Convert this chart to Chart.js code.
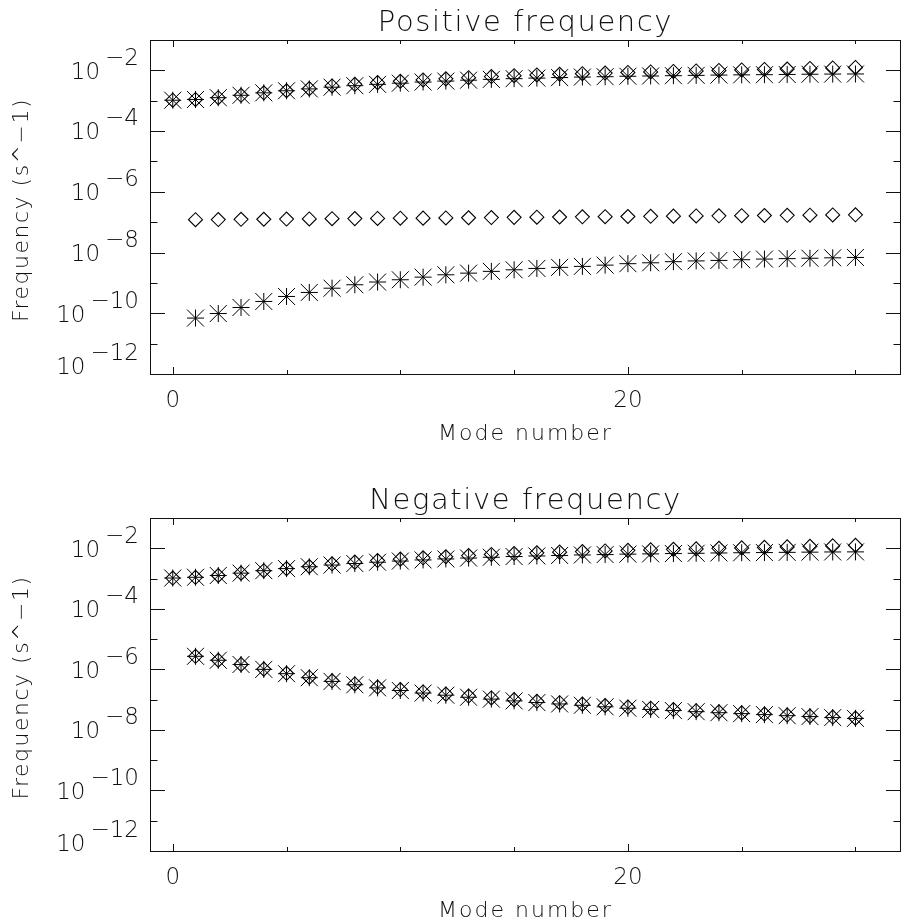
<!DOCTYPE html>
<html>
<head>
<meta charset="utf-8">
<script src="https://cdn.jsdelivr.net/npm/chart.js@4.4.1/dist/chart.umd.min.js"></script>
<style>
  body { margin: 0; background: #fff; }
  canvas { display: block; }
</style>
</head>
<body>
<canvas id="posChart" width="914" height="477"></canvas>
<canvas id="negChart" width="914" height="446"></canvas>
<script>
// mode numbers
const modeNumbers = [0,1,2,3,4,5,6,7,8,9,10,11,12,13,14,15,16,17,18,19,20,21,22,23,24,25,26,27,28,29,30];
const lowerModes = [1,2,3,4,5,6,7,8,9,10,11,12,13,14,15,16,17,18,19,20,21,22,23,24,25,26,27,28,29,30];

// upper branch (same in both panels)
const upperStar = [1.04e-3,1.10e-3,1.26e-3,1.51e-3,1.82e-3,2.13e-3,2.45e-3,2.79e-3,3.13e-3,3.46e-3,
  3.78e-3,4.12e-3,4.44e-3,4.75e-3,5.05e-3,5.33e-3,5.57e-3,5.79e-3,6.01e-3,6.19e-3,
  6.40e-3,6.53e-3,6.68e-3,6.84e-3,7.00e-3,7.11e-3,7.21e-3,7.33e-3,7.45e-3,7.55e-3,7.60e-3];
const upperDiamond = [1.04e-3,1.10e-3,1.26e-3,1.51e-3,1.82e-3,2.13e-3,2.50e-3,3.06e-3,3.48e-3,3.94e-3,
  4.38e-3,4.83e-3,5.25e-3,5.74e-3,6.25e-3,6.68e-3,7.05e-3,7.45e-3,7.78e-3,8.15e-3,
  8.53e-3,8.85e-3,9.20e-3,9.55e-3,9.93e-3,1.03e-2,1.07e-2,1.11e-2,1.16e-2,1.20e-2,1.25e-2];

// positive frequency, lower branches
const posMiddleDiamond = [1.21e-7,1.22e-7,1.24e-7,1.25e-7,1.27e-7,1.28e-7,1.30e-7,1.31e-7,1.33e-7,1.35e-7,
  1.36e-7,1.38e-7,1.40e-7,1.42e-7,1.44e-7,1.46e-7,1.48e-7,1.50e-7,1.52e-7,1.54e-7,
  1.56e-7,1.58e-7,1.60e-7,1.62e-7,1.64e-7,1.66e-7,1.68e-7,1.70e-7,1.73e-7,1.75e-7];
const posLowerStar = [6.95e-11,9.8e-11,1.55e-10,2.45e-10,3.58e-10,4.85e-10,6.7e-10,8.7e-10,1.07e-9,1.27e-9,
  1.55e-9,1.85e-9,2.1e-9,2.4e-9,2.7e-9,3.0e-9,3.25e-9,3.5e-9,3.85e-9,4.3e-9,
  4.6e-9,5.0e-9,5.3e-9,5.5e-9,5.8e-9,6.1e-9,6.3e-9,6.5e-9,6.7e-9,6.9e-9];

// negative frequency, lower branch
const negLowerStar = [2.7e-6,2.0e-6,1.45e-6,1.0e-6,7.2e-7,5.3e-7,4.0e-7,3.1e-7,2.45e-7,2.0e-7,
  1.65e-7,1.4e-7,1.2e-7,1.04e-7,9.1e-8,8.0e-8,7.2e-8,6.5e-8,5.8e-8,5.2e-8,
  4.75e-8,4.35e-8,4.0e-8,3.7e-8,3.45e-8,3.2e-8,2.95e-8,2.75e-8,2.55e-8,2.4e-8];
const negLowerDiamond = [2.7e-6,2.0e-6,1.46e-6,1.02e-6,7.4e-7,5.5e-7,4.2e-7,3.3e-7,2.6e-7,2.15e-7,
  1.8e-7,1.52e-7,1.31e-7,1.14e-7,1.0e-7,8.8e-8,7.9e-8,7.1e-8,6.4e-8,5.7e-8,
  5.2e-8,4.7e-8,4.3e-8,3.95e-8,3.65e-8,3.35e-8,3.1e-8,2.85e-8,2.65e-8,2.45e-8];

// axis ticks
const yExponents = [-12,-11,-10,-9,-8,-7,-6,-5,-4,-3,-2,-1];
const xTickValues = [0,5,10,15,20,25,30];
const xLabelValues = [0,20];

const FONT = "'DejaVu Sans', sans-serif";
const INK = '#111';
const STAR_R = 8.5;

function toPoints(xs, ys) {
  return xs.map((x, i) => ({x: x, y: ys[i]}));
}
// IDL asterisk = plus + an x whose arms reach the corners
function starSets(xs, ys) {
  const pts = toPoints(xs, ys);
  const base = {data: pts, borderColor: '#000', borderWidth: 1, showLine: false};
  return [
    Object.assign({}, base, {pointStyle: 'cross', pointRadius: STAR_R}),
    Object.assign({}, base, {pointStyle: 'crossRot', pointRadius: STAR_R * Math.SQRT2})
  ];
}
function diamondSet(xs, ys) {
  return {data: toPoints(xs, ys), pointStyle: 'rectRot', pointRadius: 7, borderColor: '#000',
    borderWidth: 1.1, backgroundColor: 'rgba(0,0,0,0)', showLine: false};
}

function drawText(ctx, text, x, y, align, spacing) {
  ctx.letterSpacing = (spacing || 0) + 'px';
  ctx.textAlign = align;
  ctx.fillText(text, x, y);
  ctx.letterSpacing = '0px';
}

function idlAxes(title) {
  return {
    id: 'idlAxes',
    afterDraw(chart) {
      const ctx = chart.ctx;
      const a = chart.chartArea;
      const xs = chart.scales.x, ys = chart.scales.y;
      ctx.save();
      ctx.strokeStyle = INK;
      ctx.lineWidth = 1;
      ctx.strokeRect(a.left + 0.5, a.top + 0.5, a.right - a.left - 1, a.bottom - a.top);

      ctx.beginPath();
      yExponents.forEach(e => {
        const y = Math.round(ys.getPixelForValue(Math.pow(10, e))) + 0.5;
        const len = e % 2 === 0 ? 15 : 7.5;
        ctx.moveTo(a.left, y); ctx.lineTo(a.left + len, y);
        ctx.moveTo(a.right, y); ctx.lineTo(a.right - len, y);
      });
      xTickValues.forEach(v => {
        const x = Math.round(xs.getPixelForValue(v)) + 0.5;
        const len = v % 20 === 0 ? 7 : 4;
        ctx.moveTo(x, a.bottom); ctx.lineTo(x, a.bottom - len);
        ctx.moveTo(x, a.top); ctx.lineTo(x, a.top + len);
      });
      ctx.stroke();

      ctx.fillStyle = INK;
      ctx.textBaseline = 'alphabetic';
      ctx.font = '200 23px ' + FONT;
      yExponents.filter(e => e % 2 === 0).forEach(e => {
        let y = ys.getPixelForValue(Math.pow(10, e));
        y = Math.min(y, a.bottom - 8.5);
        const sup = '\u2212' + (-e);
        const supW = ctx.measureText(sup).width;
        drawText(ctx, sup, 139, y - 5.6, 'right');
        drawText(ctx, '10', 139 - supW - 5, y + 8.4, 'right');
      });
      xLabelValues.forEach(v => {
        drawText(ctx, String(v), xs.getPixelForValue(v), a.bottom + 32.7, 'center');
      });

      const cx = (a.left + a.right) / 2;
      ctx.font = '200 22px ' + FONT;
      drawText(ctx, 'Mode number', cx, a.bottom + 66, 'center', 2);

      ctx.save();
      ctx.translate(28, (a.top + a.bottom) / 2 + 3);
      ctx.rotate(-Math.PI / 2);
      drawText(ctx, 'Frequency (s^\u22121)', 0, 0, 'center', 1.5);
      ctx.restore();

      ctx.font = '200 29px ' + FONT;
      drawText(ctx, title, cx, a.top - 9.5, 'center', 1.6);
      ctx.restore();
    }
  };
}

function makeChart(id, title, datasets, pad) {
  return new Chart(document.getElementById(id), {
    type: 'scatter',
    data: {datasets: datasets},
    options: {
      responsive: false,
      animation: false,
      events: [],
      layout: {padding: pad},
      plugins: {legend: {display: false}, tooltip: {enabled: false}},
      scales: {
        x: {type: 'linear', min: -1, max: 32, display: false},
        y: {type: 'logarithmic', min: 1e-12, max: 1e-1, display: false}
      }
    },
    plugins: [idlAxes(title)]
  });
}

makeChart('posChart', 'Positive frequency', [
  diamondSet(modeNumbers, upperDiamond),
  ...starSets(modeNumbers, upperStar),
  diamondSet(lowerModes, posMiddleDiamond),
  ...starSets(lowerModes, posLowerStar)
], {left: 150, right: 1, top: 40, bottom: 103});

makeChart('negChart', 'Negative frequency', [
  diamondSet(modeNumbers, upperDiamond),
  ...starSets(modeNumbers, upperStar),
  diamondSet(lowerModes, negLowerDiamond),
  ...starSets(lowerModes, negLowerStar)
], {left: 150, right: 1, top: 41, bottom: 72});
</script>
</body>
</html>
